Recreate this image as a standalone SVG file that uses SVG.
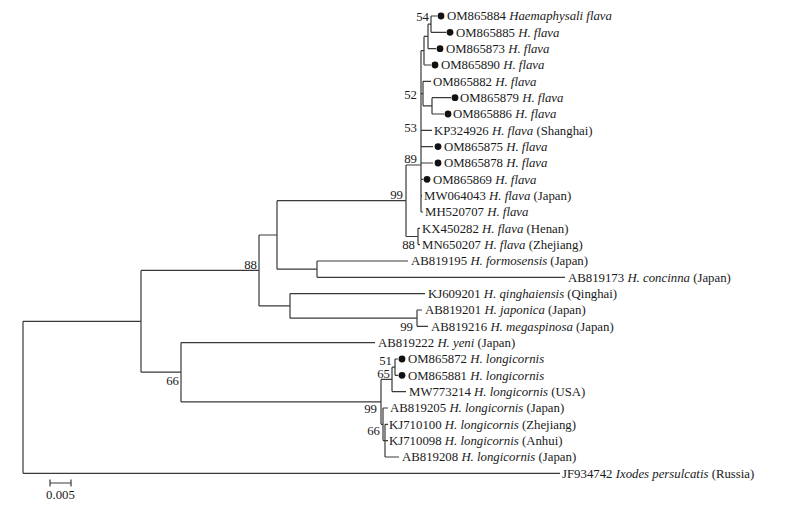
<svg xmlns="http://www.w3.org/2000/svg" width="808" height="505" viewBox="0 0 808 505">
<style>
text{font-family:"Liberation Serif","Times New Roman",serif;font-size:12.8px;fill:#1a1a1a}
.i{font-style:italic}
.bs{text-anchor:end}
.e path{fill:none;stroke:#3a3a3a;stroke-width:1.2}
.dot{fill:#111}
</style>
<rect width="808" height="505" fill="#fff"/>
<g class="e" id="connectors">
<path d="M23,321.3V473.3M23,321.3H141M23,473.3H560"/>
<path d="M141,270.4V372.2M141,270.4H259M141,372.2H181"/>
<path d="M259,235V305.9M259,235H277M259,305.9H290"/>
<path d="M277,200.7V269.2M277,200.7H406M277,269.2H317"/>
<path d="M317,261V277.3M317,261H408M317,277.3H565"/>
<path d="M290,293.6V318.2M290,293.6H425M290,318.2H417"/>
<path d="M417,310V326.3M417,310H422M417,326.3H428"/>
<path d="M406,165V236.5M406,165H421M406,236.5H418"/>
<path d="M418,228.3V244.6M418,228.3H420M418,244.6H420"/>
<path d="M421,50.7V212M421,50.7H424M421,93.6H423M421,130.3H432M421,146.6H433M421,163H433M421,179.3H423M421,195.6H422M421,212H423"/>
<path d="M424,36.4V65M424,36.4H428M424,65H431"/>
<path d="M428,24.2V48.7M428,24.2H431M428,48.7H436"/>
<path d="M431,16V32.3M431,16H437M431,32.3H446"/>
<path d="M423,81.3V105.8M423,81.3H431M423,105.8H432"/>
<path d="M432,97.7V114M432,97.7H451M432,114H444"/>
<path d="M181,342.6V401.9M181,342.6H375M181,401.9H381"/>
<path d="M381,379.4V424.3M381,379.4H392M381,424.3H383"/>
<path d="M392,367.2V391.6M392,367.2H395M392,391.6H406"/>
<path d="M395,359V375.3M395,359H398M395,375.3H398"/>
<path d="M383,408V440.6M383,408H388M383,440.6H385"/>
<path d="M385,424.3V457M385,424.3H388M385,440.6H388M385,457H399"/>
<path d="M50,483H71M50,479.5V486.5M71,479.5V486.5"/>
</g>
<g id="bootstrap">
<text class="bs" x="429" y="21">54</text>
<text class="bs" x="417" y="98.5">52</text>
<text class="bs" x="417" y="131.5">53</text>
<text class="bs" x="417" y="162.5">89</text>
<text class="bs" x="403" y="198.5">99</text>
<text class="bs" x="415" y="249">88</text>
<text class="bs" x="257" y="268.5">88</text>
<text class="bs" x="413" y="330.5">99</text>
<text class="bs" x="179" y="384.5">66</text>
<text class="bs" x="392" y="364.5">51</text>
<text class="bs" x="390" y="377.5">65</text>
<text class="bs" x="377" y="412.5">99</text>
<text class="bs" x="380" y="434.5">66</text>
</g>
<g id="OM865884"><circle class="dot" cx="441" cy="16" r="3.4"/><text x="447" y="20.3">OM865884 <tspan class="i">Haemaphysali flava</tspan></text></g>
<g id="OM865885"><circle class="dot" cx="450" cy="32.3" r="3.4"/><text x="456" y="36.6">OM865885 <tspan class="i">H. flava</tspan></text></g>
<g id="OM865873"><circle class="dot" cx="440" cy="48.7" r="3.4"/><text x="446" y="53">OM865873 <tspan class="i">H. flava</tspan></text></g>
<g id="OM865890"><circle class="dot" cx="435" cy="65" r="3.4"/><text x="441" y="69.3">OM865890 <tspan class="i">H. flava</tspan></text></g>
<g id="OM865882"><text x="433" y="85.6">OM865882 <tspan class="i">H. flava</tspan></text></g>
<g id="OM865879"><circle class="dot" cx="455" cy="97.7" r="3.4"/><text x="460" y="102">OM865879 <tspan class="i">H. flava</tspan></text></g>
<g id="OM865886"><circle class="dot" cx="448" cy="114" r="3.4"/><text x="453" y="118.3">OM865886 <tspan class="i">H. flava</tspan></text></g>
<g id="KP324926"><text x="434" y="134.6">KP324926 <tspan class="i">H. flava</tspan> (Shanghai)</text></g>
<g id="OM865875"><circle class="dot" cx="438" cy="146.6" r="3.4"/><text x="444" y="150.9">OM865875 <tspan class="i">H. flava</tspan></text></g>
<g id="OM865878"><circle class="dot" cx="438" cy="163" r="3.4"/><text x="444" y="167.3">OM865878 <tspan class="i">H. flava</tspan></text></g>
<g id="OM865869"><circle class="dot" cx="427" cy="179.3" r="3.4"/><text x="433" y="183.6">OM865869 <tspan class="i">H. flava</tspan></text></g>
<g id="MW064043"><text x="424" y="199.9">MW064043 <tspan class="i">H. flava</tspan> (Japan)</text></g>
<g id="MH520707"><text x="425" y="216.3">MH520707 <tspan class="i">H. flava</tspan></text></g>
<g id="KX450282"><text x="422" y="232.6">KX450282 <tspan class="i">H. flava</tspan> (Henan)</text></g>
<g id="MN650207"><text x="422" y="248.9">MN650207 <tspan class="i">H. flava</tspan> (Zhejiang)</text></g>
<g id="AB819195"><text x="411" y="265.3">AB819195 <tspan class="i">H. formosensis</tspan> (Japan)</text></g>
<g id="AB819173"><text x="568" y="281.6">AB819173 <tspan class="i">H. concinna</tspan> (Japan)</text></g>
<g id="KJ609201"><text x="428" y="297.9">KJ609201 <tspan class="i">H. qinghaiensis</tspan> (Qinghai)</text></g>
<g id="AB819201"><text x="425" y="314.3">AB819201 <tspan class="i">H. japonica</tspan> (Japan)</text></g>
<g id="AB819216"><text x="431" y="330.6">AB819216 <tspan class="i">H. megaspinosa</tspan> (Japan)</text></g>
<g id="AB819222"><text x="378" y="346.9">AB819222 <tspan class="i">H. yeni</tspan> (Japan)</text></g>
<g id="OM865872"><circle class="dot" cx="402" cy="359" r="3.4"/><text x="408" y="363.3">OM865872 <tspan class="i">H. longicornis</tspan></text></g>
<g id="OM865881"><circle class="dot" cx="402" cy="375.3" r="3.4"/><text x="408" y="379.6">OM865881 <tspan class="i">H. longicornis</tspan></text></g>
<g id="MW773214"><text x="409" y="395.9">MW773214 <tspan class="i">H. longicornis</tspan> (USA)</text></g>
<g id="AB819205"><text x="390" y="412.3">AB819205 <tspan class="i">H. longicornis</tspan> (Japan)</text></g>
<g id="KJ710100"><text x="389" y="428.6">KJ710100 <tspan class="i">H. longicornis</tspan> (Zhejiang)</text></g>
<g id="KJ710098"><text x="389" y="444.9">KJ710098 <tspan class="i">H. longicornis</tspan> (Anhui)</text></g>
<g id="AB819208"><text x="402" y="461.3">AB819208 <tspan class="i">H. longicornis</tspan> (Japan)</text></g>
<g id="JF934742"><text x="562" y="477.6">JF934742 <tspan class="i">Ixodes persulcatis</tspan> (Russia)</text></g>
<g id="scale"><text x="60.5" y="499" text-anchor="middle">0.005</text></g>
</svg>
